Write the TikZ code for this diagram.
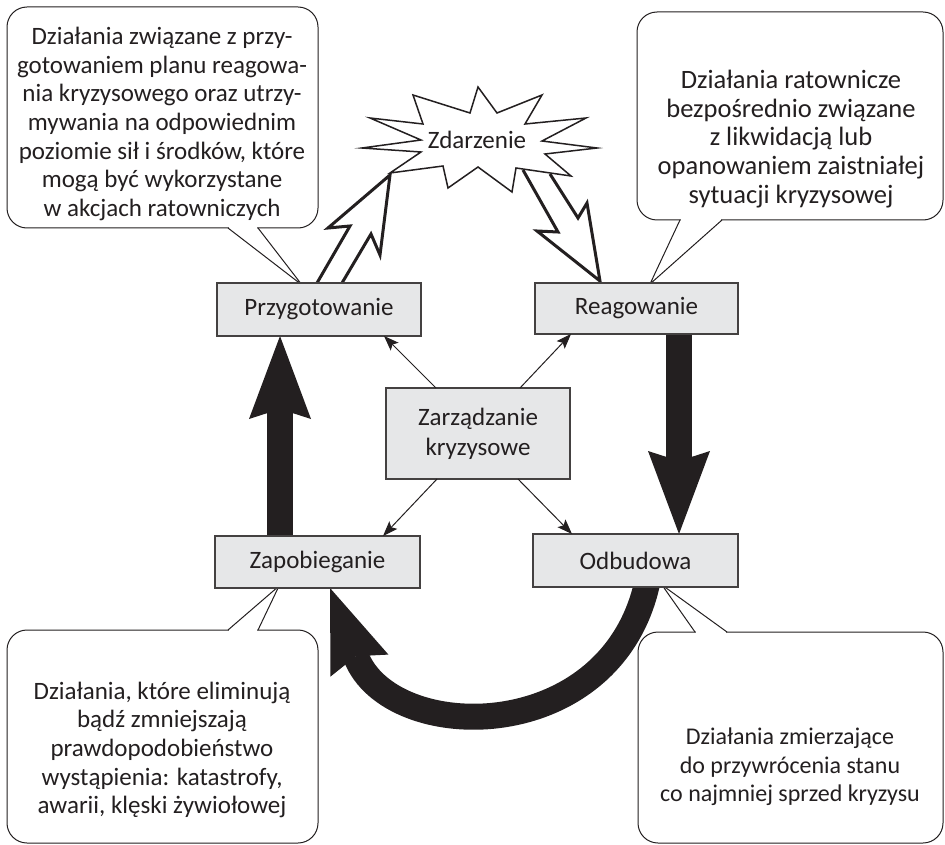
\documentclass[tikz,border=0pt]{standalone}
\usepackage{fontspec}
\setmainfont{Carlito}
\usetikzlibrary{arrows.meta,calc}
\definecolor{ink}{HTML}{231F20}
\definecolor{boxfill}{HTML}{E6E7E8}
\pgfdeclarelayer{back}
\pgfdeclarelayer{mid}
\pgfsetlayers{back,mid,main}
\newcommand{\txtfont}{\fontsize{25pt}{28.7pt}\selectfont}
\newcommand{\labfont}{\fontsize{25pt}{30pt}\selectfont}
\begin{document}
\begin{tikzpicture}[x=1pt,y=-1pt,
  stage/.style={draw=ink!85, line width=1.3pt, fill=boxfill, text=ink, font=\labfont, inner sep=0pt, outer sep=0pt},
  txt/.style={align=center, text=ink, font=\txtfont, inner sep=0pt},
  thinarr/.style={draw=ink, line width=1pt, -{Stealth[length=15pt,width=11pt,inset=3pt]}},
  thickarr/.style={draw=ink, line width=26pt, -{Stealth[length=83pt,width=62pt,inset=10pt,line width=0pt]}},
  callout/.style={draw=ink, line width=1pt, fill=white, rounded corners=20pt},
  pointer/.style={draw=ink, line width=1pt, line join=miter},
  bolt/.style={draw=ink, line width=3pt, fill=white, line join=miter, miter limit=10},
  burst/.style={draw=ink, line width=1.5pt, fill=white, line join=miter, miter limit=10}]
\useasboundingbox (0,0) rectangle (945,845);

% stage boxes
\node[stage, minimum width=204pt, minimum height=53pt] (prz) at (319,309.5) {Przygotowanie};
\node[stage, minimum width=203pt, minimum height=51pt] (rea) at (636.5,308.5) {Reagowanie};
\node[stage, minimum width=184pt, minimum height=91pt, align=center] (zar) at (478,433.5) {Zarządzanie\\kryzysowe};
\node[stage, minimum width=205pt, minimum height=52pt] (zap) at (317.5,562) {Zapobieganie};
\node[stage, minimum width=205pt, minimum height=53pt] (odb) at (635.5,560.5) {Odbudowa};

% helper x positions
\coordinate (xA) at (280,0);
\coordinate (xB) at (679,0);
\coordinate (xC) at (648,0);
\coordinate (xD) at (330,0);

% callouts
\begin{pgfonlayer}{back}
  \draw[callout] (7,7) rectangle (318,228);
  \fill[white] (229,225) rectangle (257,231);
  \draw[pointer] (228,228) -- (302,285) -- (258,228);

  \draw[callout] (637,12) rectangle (943,220);
  \fill[white] (681,217) rectangle (721,223);
  \draw[pointer] (680,220) -- (650,284) -- (722,220);

  \draw[callout] (7,630) rectangle (318,843);
  \fill[white] (229,627) rectangle (257,633);
  \draw[pointer] (228,630) -- (279,586) -- (258,630);

  \draw[callout] (638,632) rectangle (943,843);
  \fill[white] (696,629) rectangle (726,635);
  \draw[pointer] (695,632) -- (662,585) -- (727,632);
\end{pgfonlayer}

% big arrows, bolts, burst
\begin{pgfonlayer}{mid}
  \draw[thickarr] (zap.north -| xA) -- (prz.south -| xA);
  \draw[thickarr] (rea.south -| xB) -- (odb.north -| xB);
  \draw[thickarr] ($(odb.south -| xC)+(0,-8)$) .. controls (614,748) and (390,746) .. (zap.south -| xD);

  \draw[bolt] (317,283) -- (350,226) -- (328,228) -- (390,175) -- (380,255) -- (371,234) -- (342,283);
  \draw[bolt] (523,170) -- (558,232) -- (537,231) -- (600,281) -- (587,203) -- (578,218) -- (550,174);

  \draw[burst] (362,148) -- (421,140) -- (370,118) -- (423,124) -- (413,95) -- (470,113)
    -- (478,87) -- (497,113) -- (542,95) -- (525,124) -- (586,118) -- (542,141)
    -- (597,148) -- (545,154) -- (571,176) -- (516,168) -- (512,192) -- (478,167)
    -- (448,188) -- (443,166) -- (390,173) -- (421,152) -- cycle;
\end{pgfonlayer}

\node[txt, font=\labfont] (zd) at (477,140) {Zdarzenie};

% thin arrows from crisis management
\draw[thinarr] (zar.north -| 436,0) -- (prz.south -| 384,0);
\draw[thinarr] (zar.north -| 520,0) -- (rea.south -| 571,0);
\draw[thinarr] (zar.south -| 437,0) -- (zap.north -| 383,0);
\draw[thinarr] (zar.south -| 518,0) -- (odb.north -| 572,0);

% callout texts
\node[txt] (t1) at (162,124) {Działania związane z przy-\\gotowaniem planu reagowa-\\nia kryzysowego oraz utrzy-\\mywania na odpowiednim\\poziomie sił i środków, które\\mogą być wykorzystane\\w akcjach ratowniczych};
\node[txt, font=\fontsize{26.5pt}{28.7pt}\selectfont] (t2) at (791,139) {Działania ratownicze\\bezpośrednio związane\\z likwidacją lub\\opanowaniem zaistniałej\\sytuacji kryzysowej};
\node[txt] (t3) at (162,750) {Działania, które eliminują\\bądź zmniejszają\\prawdopodobieństwo\\wystąpienia: katastrofy,\\awarii, klęski żywiołowej};
\node[txt, font=\fontsize{24pt}{28.7pt}\selectfont] (t4) at (790,767) {Działania zmierzające\\do przywrócenia stanu\\co najmniej sprzed kryzysu};
\end{tikzpicture}
\end{document}
